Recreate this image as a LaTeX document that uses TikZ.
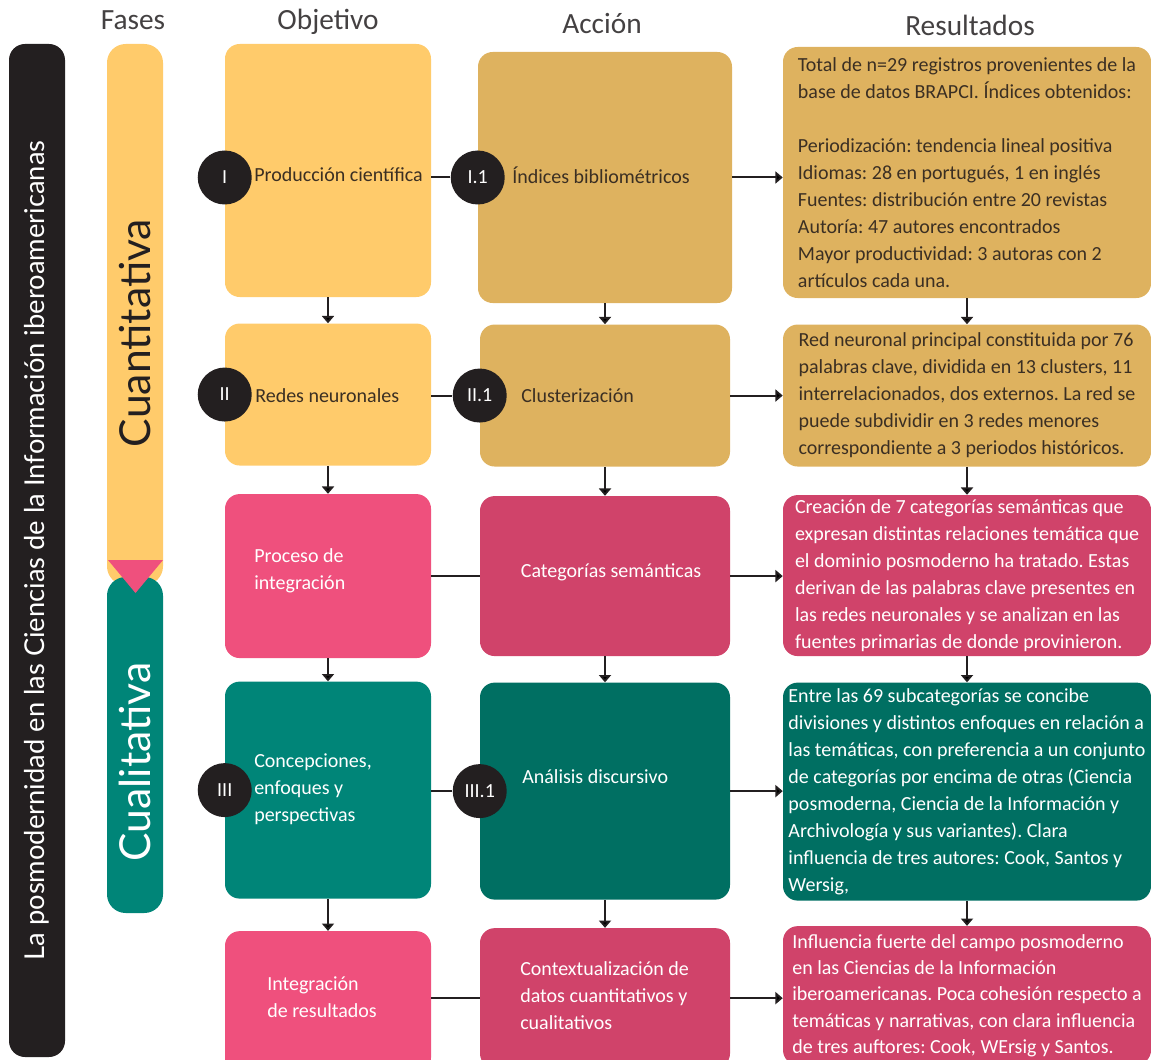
\documentclass[tikz,border=0pt]{standalone}
\usepackage{fontspec}
\setmainfont{Carlito}
\newfontfamily\latofont{Lato}
\usepackage{tikz}
\usetikzlibrary{positioning, arrows, arrows.meta}
\frenchspacing

\definecolor{oroclaro}{HTML}{FFCB6B}
\definecolor{oro}{HTML}{DEB25F}
\definecolor{rosa}{HTML}{EF507D}
\definecolor{rosaosc}{HTML}{D0436A}
\definecolor{verde}{HTML}{008578}
\definecolor{verdeosc}{HTML}{006F62}
\definecolor{negro}{HTML}{231F20}
\definecolor{tinta}{HTML}{3B2F23}

\tikzset{
  caja/.style={rectangle, rounded corners=11pt, inner sep=0pt},
  obj/.style={caja, minimum width=154.5pt},
  acc/.style={caja, minimum width=187.5pt},
  res/.style={caja, minimum width=276pt, align=left, font=\frenchspacing\fontsize{15}{20.25}\selectfont},
  texto/.style={align=left, inner sep=0pt, font=\frenchspacing\fontsize{15}{20.25}\selectfont},
  circulo/.style={circle, fill=negro, text=white, minimum size=40.5pt, inner sep=0pt, font=\fontsize{15}{15}\selectfont},
  titulo/.style={text=negro!85, font=\fontsize{22}{22}\selectfont},
  vertical/.style={rotate=90, inner sep=0pt, font=\latofont\fontsize{32}{32}\selectfont},
  linea/.style={draw=negro, line width=1.5pt},
  flecha/.style={linea, -{Triangle[length=5.5pt, width=9pt]}},
}

\begin{document}
\begin{tikzpicture}[x=0.75pt, y=-0.75pt]
    \useasboundingbox (0,0) rectangle (1151,1059);

    % titulos
    \node[titulo](fases) at (133,20){Fases};
    \node[titulo](objetivo) at (328,22){Objetivo};
    \node[titulo](accion) at (602,24){Acción};
    \node[titulo](resultados) at (970,25){Resultados};

    % tema y fases
    \node[rotate=90, fill=negro, rounded corners=12pt, minimum width=759.75pt, minimum height=42pt, inner sep=0pt, text=white, font=\latofont\fontsize{20.5}{20.5}\selectfont](tema) at (37,550.5){La posmodernidad en las Ciencias de la Información iberoamericanas};
    \node[caja, fill=oroclaro, rounded corners=14pt, minimum width=42pt, minimum height=405.75pt](fase1) at (135,314.5){};
    \node[caja, fill=verde, rounded corners=14pt, minimum width=42pt, minimum height=252pt](fase2) at (135,745){};
    \fill[rosa] (108,560) -- (163,560) -- (135.5,593) -- cycle;
    \node[vertical, text=negro](cuanti) at (135,333){Cuantitativa};
    \node[vertical, text=white](cuali) at (135,762){Cualitativa};

    % objetivo
    \node[obj, fill=oroclaro, minimum height=189.75pt](obj1) at (328,170.5){};
    \node[obj, fill=oroclaro, minimum height=106.5pt](obj2)[below=19.5pt of obj1]{};
    \node[obj, fill=rosa, minimum height=123pt](obj3)[below=21pt of obj2]{};
    \node[obj, fill=verde, minimum height=162.75pt](obj4)[below=17.25pt of obj3]{};
    \node[obj, fill=rosa, minimum height=105.75pt](obj5)[below=24pt of obj4]{};

    % accion
    \node[acc, fill=oro, minimum width=190.5pt, minimum height=188.25pt](acc1) at (605,177.5){};
    \node[acc, fill=oro, minimum height=106.5pt](acc2)[below=15.75pt of acc1]{};
    \node[acc, fill=rosaosc, minimum height=120pt](acc3)[below=21.75pt of acc2]{};
    \node[acc, fill=verdeosc, minimum height=162.75pt](acc4)[below=19.5pt of acc3]{};
    \node[acc, fill=rosaosc, minimum height=105pt](acc5)[below=21pt of acc4]{};

    % resultados
    \node[res, fill=oro, text=tinta, minimum height=188.25pt](res1) at (967,172.5){Total de n=29 registros provenientes de la\\
        base de datos BRAPCI. Índices obtenidos:\\[20.25pt]
        Periodización: tendencia lineal positiva\\
        Idiomas: 28 en portugués, 1 en inglés\\
        Fuentes: distribución entre 20 revistas\\
        Autoría: 47 autores encontrados\\
        Mayor productividad: 3 autoras con 2\\
        artículos cada una.};
    \node[res, fill=oro, text=tinta, minimum height=106.5pt](res2)[below=19.5pt of res1]{Red neuronal principal constituida por 76\\
        palabras clave, dividida en 13 clusters, 11\\
        interrelacionados, dos externos. La red se\\
        puede subdividir en 3 redes menores\\
        correspondiente a 3 periodos históricos.};
    \node[res, fill=rosaosc, text=white, minimum height=120.75pt](res3)[below=21pt of res2]{Creación de 7 categorías semánticas que\\
        expresan distintas relaciones temática que\\
        el dominio posmoderno ha tratado. Estas\\
        derivan de las palabras clave presentes en\\
        las redes neuronales y se analizan en las\\
        fuentes primarias de donde provinieron.};
    \node[res, fill=verdeosc, text=white, minimum height=163.5pt](res4)[below=19.5pt of res3]{Entre las 69 subcategorías se concibe\\
        divisiones y distintos enfoques en relación a\\
        las temáticas, con preferencia a un conjunto\\
        de categorías por encima de otras (Ciencia\\
        posmoderna, Ciencia de la Información y\\
        Archivología y sus variantes). Clara\\
        influencia de tres autores: Cook, Santos y\\
        Wersig,};
    \node[res, fill=rosaosc, text=white, minimum height=104pt, font=\frenchspacing\fontsize{15}{19.75}\selectfont](res5)[below=18.75pt of res4]{Influencia fuerte del campo posmoderno\\
        en las Ciencias de la Información\\
        iberoamericanas. Poca cohesión respecto a\\
        temáticas y narrativas, con clara influencia\\
        de tres auftores: Cook, WErsig y Santos.};

    % textos de las cajas
    \node[texto, anchor=west, text=tinta](tobj1) at (254,175){Producción científica};
    \node[texto, anchor=west, text=tinta](tobj2) at (255,396){Redes neuronales};
    \node[texto, anchor=west, text=white](tobj3) at (254,571){Proceso de\\integración};
    \node[texto, anchor=west, text=white](tobj4) at (254,789){Concepciones,\\enfoques y\\perspectivas};
    \node[texto, anchor=west, text=white](tobj5) at (267,997){Integración\\de resultados};
    \node[texto, anchor=west, text=tinta](tacc1) at (512,175){Índices bibliométricos};
    \node[texto, anchor=west, text=tinta](tacc2) at (521,396){Clusterización};
    \node[texto, text=white](tacc3) at (611,572){Categorías semánticas};
    \node[texto, anchor=west, text=white](tacc4) at (522,777){Análisis discursivo};
    \node[texto, anchor=west, text=white](tacc5) at (520,996){Contextualización de\\datos cuantitativos y\\cualitativos};

    % numeros
    \node[circulo](c1) at (obj1.west |- acc1){I};
    \node[circulo](c11) at (acc1.west){I.1};
    \node[circulo](c2) at (obj2.west){II};
    \node[circulo](c21) at (acc2.west){II.1};
    \node[circulo](c3) at (obj4.west){III};
    \node[circulo](c31) at (acc4.west){III.1};

    % conectores
    \path[linea]
    (obj1.east |- c11) edge (c11)
    (obj2.east |- c21) edge (c21)
    (obj3.east |- acc3) edge (acc3)
    (obj4.east |- c31) edge (c31)
    (obj5.east |- acc5) edge (acc5);

    \path[flecha]
    (acc1) edge (acc1 -| res1.west)
    (acc2) edge (acc2 -| res2.west)
    (acc3) edge (acc3 -| res3.west)
    (acc4) edge (acc4 -| res4.west)
    (acc5) edge (acc5 -| res5.west)
    (obj1) edge (obj2)
    (obj2) edge (obj3)
    (obj3) edge (obj4)
    (obj4) edge (obj5)
    (acc1) edge (acc2)
    (acc2) edge (acc3)
    (acc3) edge (acc4)
    (acc4) edge (acc5)
    (res1) edge (res2)
    (res2) edge (res3)
    (res3) edge (res4)
    (res4) edge (res5);
\end{tikzpicture}
\end{document}
